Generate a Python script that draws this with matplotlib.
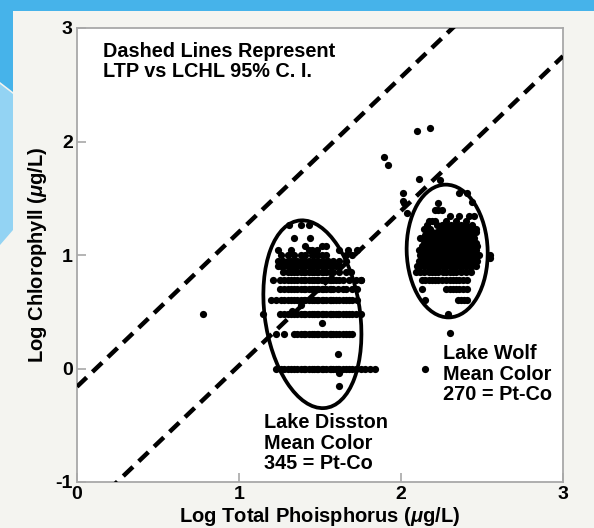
import matplotlib
matplotlib.use("Agg")
import matplotlib.pyplot as plt
from matplotlib.patches import Ellipse, Rectangle, Polygon
import numpy as np

plt.rcParams['font.family'] = ['Liberation Sans', 'DejaVu Sans']
plt.rcParams['font.weight'] = 'bold'
plt.rcParams['axes.unicode_minus'] = False
plt.rcParams['mathtext.fontset'] = 'custom'
plt.rcParams['mathtext.rm'] = 'Liberation Sans:bold'
plt.rcParams['mathtext.it'] = 'Liberation Sans:italic:bold'

# ---------------- data (log10 units) ----------------
# Lake Disston: rows of log chlorophyll with their log TP values
dis_row_000 = [1.23, 1.26, 1.28, 1.30, 1.32, 1.34, 1.36, 1.38, 1.40, 1.41, 1.43, 1.45, 1.46, 1.48,
               1.49, 1.51, 1.52, 1.54, 1.56, 1.57, 1.58, 1.60, 1.61, 1.62, 1.64, 1.66, 1.68, 1.70,
               1.72, 1.75, 1.78, 1.81, 1.84]
dis_row_030 = [1.23, 1.28, 1.34, 1.36, 1.38, 1.40, 1.41, 1.43, 1.45, 1.46, 1.48, 1.49, 1.51, 1.52,
               1.54, 1.56, 1.57, 1.58, 1.60, 1.62, 1.64, 1.66, 1.68, 1.70]
dis_row_048 = [1.15, 1.25, 1.28, 1.30, 1.32, 1.34, 1.36, 1.38, 1.40, 1.41, 1.43, 1.45, 1.46, 1.48,
               1.49, 1.51, 1.52, 1.54, 1.56, 1.57, 1.58, 1.60, 1.61, 1.62, 1.64, 1.66, 1.68, 1.70,
               1.72, 1.75]
dis_row_060 = [1.20, 1.23, 1.26, 1.28, 1.30, 1.32, 1.34, 1.36, 1.38, 1.40, 1.41, 1.43, 1.45, 1.46,
               1.48, 1.49, 1.51, 1.52, 1.54, 1.56, 1.57, 1.58, 1.60, 1.62, 1.64, 1.66, 1.68, 1.70, 1.73]
dis_row_070 = [1.25, 1.28, 1.30, 1.32, 1.34, 1.36, 1.38, 1.40, 1.41, 1.43, 1.45, 1.46, 1.48, 1.49,
               1.51, 1.52, 1.54, 1.56, 1.57, 1.58, 1.61, 1.64, 1.66, 1.70, 1.73]
dis_row_078 = [1.21, 1.25, 1.28, 1.30, 1.32, 1.34, 1.36, 1.38, 1.40, 1.41, 1.43, 1.45, 1.46, 1.48,
               1.49, 1.51, 1.52, 1.54, 1.56, 1.57, 1.58, 1.60, 1.62, 1.64, 1.68, 1.72, 1.75]
dis_row_085 = [1.27, 1.30, 1.32, 1.34, 1.36, 1.38, 1.40, 1.41, 1.43, 1.45, 1.46, 1.48, 1.49, 1.51,
               1.52, 1.54, 1.56, 1.58, 1.62, 1.66, 1.69]
dis_row_090 = [1.24, 1.26, 1.28, 1.30, 1.32, 1.34, 1.36, 1.38, 1.40, 1.43, 1.45, 1.48, 1.51, 1.54,
               1.57, 1.60, 1.62]
dis_row_095 = [1.24, 1.27, 1.30, 1.32, 1.34, 1.36, 1.38, 1.40, 1.41, 1.43, 1.46, 1.49, 1.52, 1.55,
               1.58, 1.62, 1.66]
dis_row_100 = [1.26, 1.30, 1.34, 1.38, 1.41, 1.45, 1.48, 1.51, 1.54, 1.66, 1.70]
dis_row_104 = [1.24, 1.32, 1.43, 1.45, 1.48, 1.62, 1.67, 1.73]
dis_row_108 = [1.41, 1.51, 1.54]
dis_row_115 = [1.34, 1.44]
dis_row_126 = [1.31, 1.38, 1.43]
dis_extra_x = [0.78, 1.33, 1.38, 1.51, 1.61, 1.62, 1.62, 1.75]
dis_extra_y = [0.48, 0.51, 0.56, 0.40, 0.13, -0.04, -0.15, 0.78]

# Lake Wolf: rows of log chlorophyll with their log TP values
wolf_row_060 = [2.15, 2.35, 2.37, 2.39, 2.41]
wolf_row_070 = [2.13, 2.28, 2.30, 2.32, 2.34, 2.36, 2.38, 2.41]
wolf_row_078 = [2.13, 2.15, 2.17, 2.19, 2.21, 2.23, 2.25, 2.28, 2.30, 2.32, 2.34, 2.36, 2.38, 2.41]
wolf_row_085 = [2.09, 2.12, 2.14, 2.17, 2.19, 2.21, 2.23, 2.26, 2.28, 2.30, 2.32, 2.34, 2.37, 2.40, 2.43]
wolf_row_090 = [2.10, 2.12, 2.14, 2.16, 2.18, 2.20, 2.22, 2.24, 2.26, 2.28, 2.30, 2.32, 2.34, 2.36,
                2.38, 2.40, 2.42, 2.44, 2.46]
wolf_row_095 = [2.11, 2.13, 2.15, 2.17, 2.19, 2.21, 2.23, 2.25, 2.27, 2.29, 2.31, 2.33, 2.35, 2.37,
                2.39, 2.41, 2.43, 2.45, 2.47]
wolf_row_100 = [2.12, 2.14, 2.16, 2.18, 2.20, 2.22, 2.24, 2.26, 2.28, 2.30, 2.32, 2.34, 2.36, 2.38,
                2.40, 2.42, 2.44, 2.46, 2.48]
wolf_row_104 = [2.11, 2.13, 2.15, 2.17, 2.19, 2.21, 2.23, 2.25, 2.27, 2.29, 2.31, 2.33, 2.35, 2.37,
                2.39, 2.41, 2.43, 2.46]
wolf_row_108 = [2.13, 2.15, 2.17, 2.19, 2.21, 2.23, 2.25, 2.27, 2.29, 2.31, 2.33, 2.35, 2.37, 2.39,
                2.41, 2.43, 2.45, 2.47]
wolf_row_111 = [2.14, 2.16, 2.18, 2.20, 2.22, 2.24, 2.26, 2.28, 2.30, 2.32, 2.34, 2.36, 2.38, 2.40,
                2.42, 2.44, 2.46]
wolf_row_115 = [2.12, 2.15, 2.17, 2.19, 2.21, 2.23, 2.25, 2.27, 2.29, 2.31, 2.33, 2.35, 2.37, 2.39,
                2.41, 2.43, 2.45]
wolf_row_118 = [2.15, 2.17, 2.19, 2.21, 2.23, 2.25, 2.27, 2.29, 2.31, 2.33, 2.35, 2.37, 2.39, 2.41,
                2.44]
wolf_row_120 = [2.16, 2.19, 2.22, 2.24, 2.26, 2.28, 2.30, 2.32, 2.34, 2.36, 2.38, 2.40, 2.43, 2.46]
wolf_row_123 = [2.14, 2.18, 2.24, 2.26, 2.28, 2.30, 2.32, 2.35, 2.38, 2.40, 2.43, 2.46]
wolf_row_126 = [2.16, 2.22, 2.25, 2.28, 2.31, 2.34, 2.37, 2.40, 2.44]
wolf_row_130 = [2.17, 2.19, 2.21, 2.28, 2.34, 2.40]
wolf_row_134 = [2.30, 2.36, 2.42, 2.45]
wolf_extra_x = [2.21, 2.23, 2.25, 2.23, 2.36, 2.41, 2.44, 2.01, 2.01, 2.02, 2.04, 2.11, 2.24,
                1.895, 1.92, 2.10, 2.18, 2.55, 2.55, 2.29, 2.30, 2.15]
wolf_extra_y = [1.40, 1.40, 1.40, 1.46, 1.55, 1.55, 1.47, 1.55, 1.48, 1.46, 1.37, 1.67, 1.66,
                1.86, 1.79, 2.09, 2.12, 1.00, 0.97, 0.48, 0.31, 0.00]

# 95% confidence lines (slope, intercepts)
ci_slope = 1.363
ci_intercepts = [-0.16, -1.337]

# ellipses: centre x, centre y, half width, half height, angle
dis_ellipse = (1.453, 0.478, 0.295, 0.83, 5.0)
wolf_ellipse = (2.285, 1.035, 0.25, 0.585, 1.0)

xticks = [0, 1, 2, 3]
yticks = [-1, 0, 1, 2, 3]

# ---------------- assemble ----------------
dis_rows = [(0.00, dis_row_000), (0.30, dis_row_030), (0.48, dis_row_048), (0.60, dis_row_060),
            (0.70, dis_row_070), (0.78, dis_row_078), (0.85, dis_row_085), (0.90, dis_row_090),
            (0.95, dis_row_095), (1.00, dis_row_100), (1.04, dis_row_104), (1.08, dis_row_108),
            (1.15, dis_row_115), (1.26, dis_row_126)]
wolf_rows = [(0.60, wolf_row_060), (0.70, wolf_row_070), (0.78, wolf_row_078), (0.85, wolf_row_085),
             (0.90, wolf_row_090), (0.95, wolf_row_095), (1.00, wolf_row_100), (1.04, wolf_row_104),
             (1.08, wolf_row_108), (1.11, wolf_row_111), (1.15, wolf_row_115), (1.18, wolf_row_118),
             (1.20, wolf_row_120), (1.23, wolf_row_123), (1.26, wolf_row_126), (1.30, wolf_row_130),
             (1.34, wolf_row_134)]

px, py = [], []
for yv, xs in dis_rows + wolf_rows:
    px.extend(xs)
    py.extend([yv] * len(xs))
px.extend(dis_extra_x); py.extend(dis_extra_y)
px.extend(wolf_extra_x); py.extend(wolf_extra_y)

# ---------------- figure ----------------
W, H = 594, 528
fig = plt.figure(figsize=(W / 100, H / 100), dpi=100)
fig.patch.set_facecolor('#f4f4f0')

# slide decoration
fig.patches.append(Rectangle((0, 1 - 11 / H), 1, 11 / H, transform=fig.transFigure,
                             facecolor='#46b3ea', edgecolor='none', zorder=0))
fig.patches.append(Polygon([(0, 1), (13 / W, 1), (13 / W, 1 - 92 / H), (0, 1 - 82 / H)],
                           closed=True, transform=fig.transFigure,
                           facecolor='#46b3ea', edgecolor='none', zorder=0))
fig.patches.append(Polygon([(0, 1 - 84 / H), (13 / W, 1 - 94 / H), (13 / W, 1 - 230 / H), (0, 1 - 245 / H)],
                           closed=True, transform=fig.transFigure,
                           facecolor='#93d3f3', edgecolor='none', zorder=0))

ax = fig.add_axes([77 / W, 46 / H, 486 / W, 454 / H])
ax.set_facecolor('white')
ax.set_xlim(0, 3)
ax.set_ylim(-1, 3)

# dashed CI lines
xl = np.array([0, 3])
for b in ci_intercepts:
    ax.plot(xl, ci_slope * xl + b, color='black', lw=3.2, dashes=(3.0, 1.8),
            solid_capstyle='butt', dash_capstyle='butt', zorder=3)

ax.scatter(px, py, s=27, color='black', linewidths=0, zorder=4)

for cx, cy, hw, hh, ang in (dis_ellipse, wolf_ellipse):
    ax.add_patch(Ellipse((cx, cy), 2 * hw, 2 * hh, angle=ang, fill=False,
                         edgecolor='black', lw=2.7, zorder=5))

ax.set_xticks(xticks)
ax.set_yticks(yticks)
ax.tick_params(direction='in', length=6.5, width=1.2, color='#a8a8a8',
               labelsize=14, pad=3)
for s in ax.spines.values():
    s.set_color('#a8a8a8')
    s.set_linewidth(1.3)

ax.set_xlabel(r'Log Total Phoisphorus ($\mu$g/L)', fontsize=14.5, fontweight='bold', labelpad=1)
ax.set_ylabel(r'Log Chlorophyll ($\mu$g/L)', fontsize=14.5, fontweight='bold', labelpad=5)

ax.text(0.16, 2.88, 'Dashed Lines Represent\nLTP vs LCHL 95% C. I.', fontsize=14.3,
        fontweight='bold', va='top', ha='left', linespacing=1.1)
ax.text(1.155, -0.395, 'Lake Disston\nMean Color\n345 = Pt-Co', fontsize=14.3,
        fontweight='bold', va='top', ha='left', linespacing=1.1)
ax.text(2.26, 0.215, 'Lake Wolf\nMean Color\n270 = Pt-Co', fontsize=14.3,
        fontweight='bold', va='top', ha='left', linespacing=1.1)

fig.savefig('out.png', dpi=100, facecolor=fig.get_facecolor())
